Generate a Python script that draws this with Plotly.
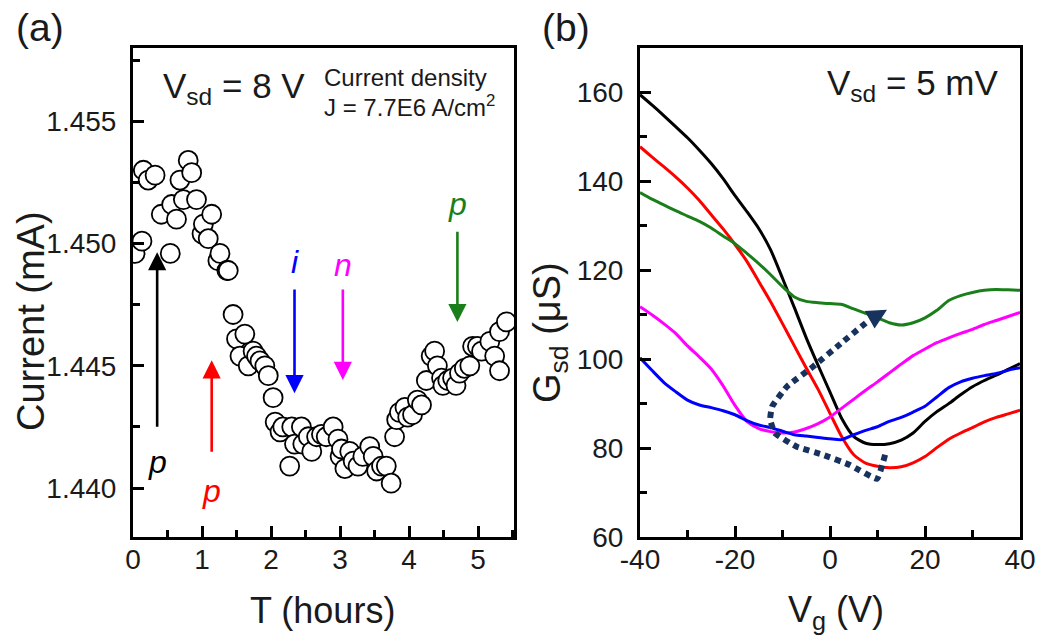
import plotly.graph_objects as go

# ---------------- panel (a): current vs time ----------------
t_hours = [0.03, 0.13, 0.15, 0.22, 0.32, 0.41, 0.54, 0.56, 0.63, 0.68, 0.73, 0.80, 0.85,
           0.92, 1.00, 1.02, 1.09, 1.14, 1.23, 1.26, 1.36, 1.38,
           1.45, 1.50, 1.55, 1.62, 1.67, 1.74, 1.79, 1.84, 1.91, 1.96, 2.03, 2.06, 2.13, 2.17,
           2.27, 2.30, 2.34, 2.44, 2.46, 2.54, 2.59, 2.66, 2.73, 2.80, 2.90, 2.97, 3.00, 3.02,
           3.07, 3.14, 3.19, 3.26, 3.33, 3.43, 3.48, 3.53, 3.60, 3.67, 3.74, 3.79, 3.82, 3.86,
           3.94, 3.98, 4.05, 4.12, 4.18, 4.25, 4.32, 4.37, 4.41, 4.47, 4.49, 4.56, 4.63, 4.68,
           4.73, 4.80, 4.88, 4.92, 4.99, 5.05, 5.17, 5.24, 5.31, 5.31, 5.41]
current_mA = [1.4496, 1.4501, 1.4530, 1.4526, 1.4528, 1.4512, 1.4496, 1.4516, 1.4510, 1.4526,
              1.4518, 1.4534, 1.4529, 1.4518, 1.4504, 1.4508, 1.4502, 1.4512, 1.4493, 1.4496,
              1.4489, 1.4489,
              1.4471, 1.4461, 1.4454, 1.4463, 1.4450, 1.4456, 1.4454, 1.4452, 1.4450, 1.4446,
              1.4437, 1.4427, 1.4423, 1.4425, 1.4409, 1.4425, 1.4418, 1.4425, 1.4418, 1.4421,
              1.4415, 1.4421, 1.4422, 1.4421, 1.4425, 1.4420, 1.4413, 1.4416, 1.4408, 1.4415,
              1.4411, 1.4409, 1.4413, 1.4417, 1.4413, 1.4407, 1.4409, 1.4409, 1.4402, 1.4421,
              1.4428, 1.4431, 1.4433, 1.4429, 1.4430, 1.4436, 1.4434, 1.4444, 1.4454, 1.4456,
              1.4450, 1.4445, 1.4442, 1.4444, 1.4445, 1.4442, 1.4447, 1.4449, 1.4450, 1.4458,
              1.4458, 1.4456, 1.4460, 1.4454, 1.4448, 1.4464, 1.4468]

# state markers: label, colour, time, arrow tail, arrow tip, label height
marker_labels = ["p", "p", "i", "n", "p"]
marker_colors = ["#000000", "#ff0000", "#0000ff", "#ff00ff", "#1a7f1a"]
marker_t = [0.35, 1.14, 2.34, 3.04, 4.70]
arrow_tail = [1.44245, 1.44143, 1.44818, 1.44818, 1.45055]
arrow_tip = [1.44965, 1.44523, 1.44388, 1.44442, 1.44679]
label_I = [1.44105, 1.43990, 1.44924, 1.44912, 1.45160]

# ---------------- panel (b): conductance vs gate voltage ----------------
vg = [-40, -37.5, -35, -32.5, -30, -27.5, -25, -22.5, -20, -17.5, -15, -12.5, -10, -7.5, -5,
      -2.5, 0, 2.5, 5, 7.5, 10, 12.5, 15, 17.5, 20, 22.5, 25, 27.5, 30, 32.5, 35, 37.5, 40]
g_black = [159.5, 157.2, 154.8, 152.3, 149.8, 147.0, 144.0, 140.6, 136.8, 133.2, 129.4, 124.6,
           118.2, 111.6, 104.8, 98.6, 92.6, 86.6, 82.6, 81.1, 80.8, 81.0, 81.8, 83.4, 86.0,
           88.2, 90.0, 92.0, 93.8, 95.2, 96.4, 97.7, 99.0]
g_red = [147.8, 145.5, 143.3, 141.0, 138.5, 135.7, 132.5, 129.3, 125.8, 122.0, 117.5, 112.9,
         108.0, 103.0, 98.0, 93.2, 87.8, 82.5, 78.5, 76.6, 75.9, 75.6, 75.8, 76.7, 78.1, 80.1,
         82.0, 83.4, 84.6, 85.9, 86.9, 87.7, 88.5]
g_green = [137.5, 136.0, 134.7, 133.4, 132.2, 131.0, 129.5, 127.7, 126.0, 123.8, 121.5, 119.0,
           116.3, 114.0, 113.0, 112.7, 112.5, 112.3, 111.3, 110.3, 109.3, 108.2, 107.7, 108.2,
           109.3, 111.0, 113.2, 114.3, 115.0, 115.5, 115.7, 115.6, 115.5]
g_magenta = [111.8, 110.0, 108.0, 105.8, 103.0, 100.5, 97.8, 94.0, 89.6, 86.0, 84.4, 83.7,
             83.4, 83.6, 84.4, 85.5, 87.0, 89.0, 91.0, 93.0, 94.9, 96.9, 98.9, 100.8, 102.3,
             103.7, 104.8, 105.8, 106.7, 107.8, 108.7, 109.6, 110.5]
g_blue = [100.3, 97.5, 94.8, 92.7, 90.8, 89.7, 89.1, 88.4, 87.5, 86.2, 85.2, 84.6, 83.8, 83.0,
          82.7, 82.4, 82.1, 81.9, 83.0, 84.0, 84.8, 86.0, 86.9, 88.1, 89.4, 91.5, 93.6, 94.9,
          95.7, 96.3, 96.8, 97.5, 98.1]

# dotted guide arrow through the conductance minima
guide_vg = [11.6, 9.9, 4.2, -1.5, -7.0, -11.6, -12.6, -12.2, -9.1, -3.6, 2.7, 8.4, 12.0]
guide_g = [78.5, 73.1, 76.2, 78.5, 80.3, 83.4, 86.4, 89.3, 93.8, 98.3, 103.9, 108.9, 111.1]

# gate-voltage tick labels (plain hyphen for negatives)
vg_ticks = [-40, -20, 0, 20, 40]
vg_ticktext = ["-40", "-20", "0", "20", "40"]

FONT = "Liberation Sans, Arial, sans-serif"
TXT = "#1a1a1a"
W, H = 1041, 640


def px(x):
    return x / W


def py(y):
    return 1 - y / H


fig = go.Figure()

fig.add_trace(go.Scatter(
    x=t_hours, y=current_mA, mode="markers", xaxis="x", yaxis="y",
    marker=dict(symbol="circle", size=19, color="white",
                line=dict(color="black", width=1.8)),
    showlegend=False, hoverinfo="skip"))

curves = [(g_black, "#000000"), (g_red, "#ff0000"), (g_green, "#1a7f1a"),
          (g_magenta, "#ff00ff"), (g_blue, "#0000ff")]
for g, c in curves:
    fig.add_trace(go.Scatter(
        x=vg, y=g, mode="lines", xaxis="x2", yaxis="y2",
        line=dict(color=c, width=3, shape="spline", smoothing=0.6),
        showlegend=False, hoverinfo="skip"))

NAVY = "#17325c"
fig.add_trace(go.Scatter(
    x=guide_vg[:-1], y=guide_g[:-1], mode="lines", xaxis="x2", yaxis="y2",
    line=dict(color=NAVY, width=6, dash="6px,5px", shape="spline", smoothing=0.35),
    showlegend=False, hoverinfo="skip"))

axis_common = dict(
    showline=True, mirror=True, linewidth=3, linecolor="black",
    ticks="inside", ticklen=11, tickwidth=2.5, tickcolor="black",
    showgrid=False, zeroline=False, automargin=False,
    tickfont=dict(family=FONT, size=28, color=TXT),
)
minor_common = dict(ticks="inside", ticklen=7, tickwidth=2.5, tickcolor="black")

fig.update_layout(
    width=W, height=H,
    margin=dict(l=0, r=0, t=0, b=0, autoexpand=False),
    paper_bgcolor="white", plot_bgcolor="white",
    xaxis=dict(domain=[px(133), px(514)], range=[0, 5.52], dtick=1, tick0=0,
               anchor="y", ticklabelstandoff=-5,
               minor=dict(dtick=0.5, **minor_common), **axis_common),
    yaxis=dict(domain=[py(537), py(48)], range=[1.438, 1.458], dtick=0.005,
               tick0=1.44, tickformat=".3f", anchor="x", ticklabelstandoff=8,
               minor=dict(dtick=0.0025, **minor_common), **axis_common),
    xaxis2=dict(domain=[px(640), px(1020)], range=[-40, 40], tickmode="array",
                tickvals=vg_ticks, ticktext=vg_ticktext,
                anchor="y2", ticklabelstandoff=-5,
                minor=dict(dtick=10, tick0=0, **minor_common), **axis_common),
    yaxis2=dict(domain=[py(537), py(48)], range=[60, 170], dtick=20, tick0=60,
                anchor="x2", ticklabelstandoff=8,
                minor=dict(dtick=10, **minor_common), **axis_common),
)

ann = []
# state arrows and labels in panel (a)
for lab, col, t, tail, tip, ly in zip(marker_labels, marker_colors, marker_t,
                                      arrow_tail, arrow_tip, label_I):
    ann.append(dict(xref="x", yref="y", axref="x", ayref="y", x=t, y=tip, ax=t, ay=tail,
                    text="", showarrow=True, arrowhead=2, arrowsize=1.4, arrowwidth=2.6,
                    arrowcolor=col, standoff=0))
    ann.append(dict(xref="x", yref="y", x=t, y=ly, text=f"<i>{lab}</i>", showarrow=False,
                    xanchor="center", yanchor="middle",
                    font=dict(family=FONT, size=32, color=col)))

# arrowhead closing the dotted guide
ann.append(dict(xref="x2", yref="y2", axref="x2", ayref="y2",
                x=guide_vg[-1], y=guide_g[-1], ax=guide_vg[-2], ay=guide_g[-2],
                text="", showarrow=True, arrowhead=2, arrowsize=0.8, arrowwidth=5,
                arrowcolor=NAVY, standoff=0))


def label(x, y, text, size, angle=0, anchor="center"):
    return dict(xref="paper", yref="paper", x=px(x), y=py(y), text=text,
                showarrow=False, textangle=angle, xanchor=anchor, yanchor="middle",
                font=dict(family=FONT, size=size, color=TXT))


ann += [
    label(40, 28, "(a)", 39),
    label(566, 28, "(b)", 39),
    label(234, 88, "V<sub>sd</sub> = 8 V", 35),
    label(322, 77, "Current density", 24, anchor="left"),
    label(322, 106, "J = 7.7E6 A/cm<sup>2</sup>", 24, anchor="left"),
    label(912, 85, "V<sub>sd</sub> = 5 mV", 35),
    label(31, 321, "Current (mA)", 38, angle=-90),
    label(322, 610, "T (hours)", 36),
    label(550, 333, "G<sub>sd</sub> (\u03bcS)", 38, angle=-90),
    label(836, 612, "V<sub>g</sub> (V)", 36),
]
fig.update_layout(annotations=ann)

fig.write_html("out.html")
